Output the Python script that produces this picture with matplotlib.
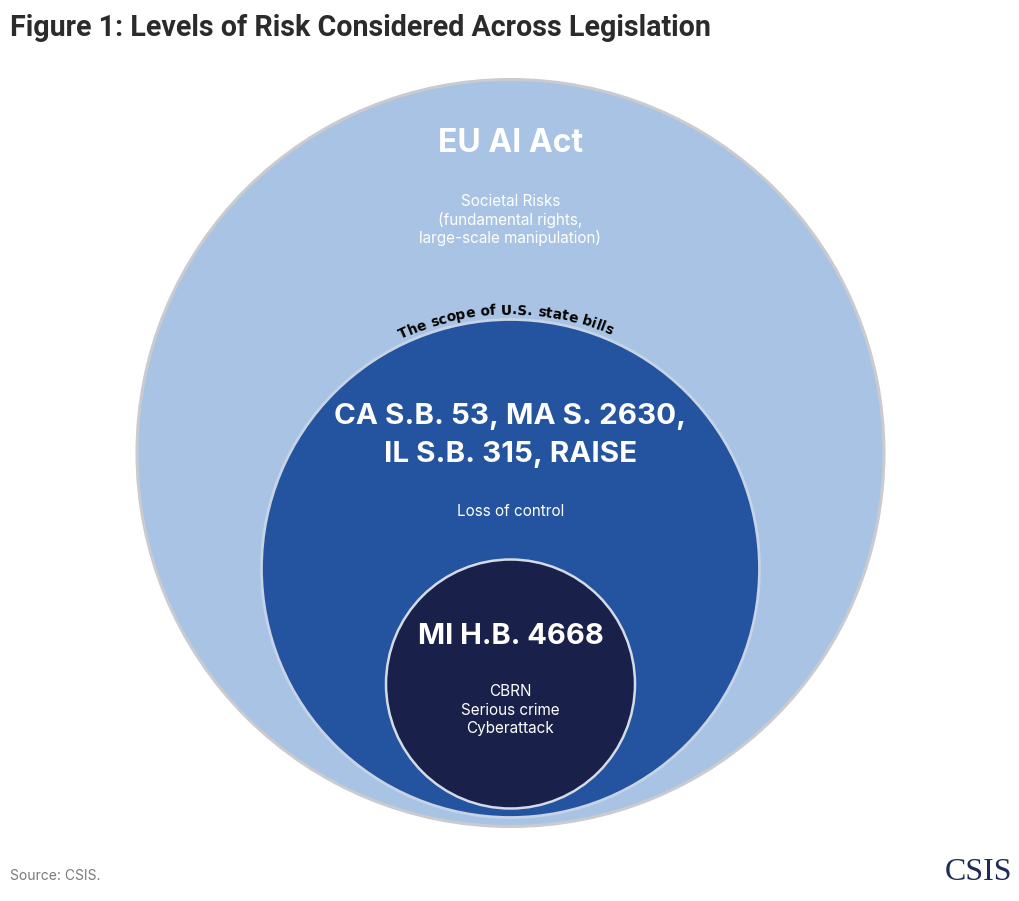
import matplotlib
matplotlib.use("Agg")
import matplotlib.pyplot as plt
from matplotlib.patches import Circle
from matplotlib.font_manager import FontProperties
from matplotlib.textpath import TextToPath
import numpy as np

# ---- data ----
title = "Figure 1: Levels of Risk Considered Across Legislation"
levels = [3, 2, 1]  # relative scope of risk considered (outer -> inner)
level_titles = [["EU AI Act"], ["CA S.B. 53, MA S. 2630,", "IL S.B. 315, RAISE"], ["MI H.B. 4668"]]
level_risks = [
    ["Societal Risks", "(fundamental rights,", "large-scale manipulation)"],
    ["Loss of control"],
    ["CBRN", "Serious crime", "Cyberattack"],
]
arc_label = "The scope of U.S. state bills"
source = "Source: CSIS."
logo = "CSIS"

# ---- style ----
W, H = 1020, 901
DPI = 100
fill_colors = ["#a8c3e3", "#2453a0", "#19204a"]
edge_colors = ["#c9cbd0", "#c7d3e6", "#d5dbe6"]
edge_widths = [2.2, 2.0, 1.8]
unit = 124.5
cx = 510.5
bottoms = [826.5, 817.5, 808.5]
title_y0 = [143, 417, 636]
title_lh = 38
title_sizes = [23.0, 21.3, 21.0]
risk_y0 = [201, 512, 692]
line_h = 18.5

fig = plt.figure(figsize=(W / DPI, H / DPI), dpi=DPI)
ax = fig.add_axes([0, 0, 1, 1])
ax.set_xlim(0, W)
ax.set_ylim(H, 0)
ax.set_aspect("equal")
ax.axis("off")

body = "Inter"

for i, lvl in enumerate(levels):
    r = lvl * unit
    cy = bottoms[i] - r
    ax.add_patch(Circle((cx, cy), r, facecolor=fill_colors[i], edgecolor=edge_colors[i],
                        linewidth=edge_widths[i], zorder=i + 1))
    for j, line in enumerate(level_titles[i]):
        ax.text(cx, title_y0[i] + j * title_lh, line, color="white", fontsize=title_sizes[i],
                fontweight="bold", family=body, ha="center", va="center", zorder=10)
    for j, line in enumerate(level_risks[i]):
        ax.text(cx, risk_y0[i] + j * line_h, line, color="white", fontsize=11.0,
                family=body, ha="center", va="center", zorder=10)

# curved label along the middle circle
prop = FontProperties(family="DejaVu Sans", weight="bold", size=9.9)
t2p = TextToPath()
def width_px(s):
    w, h, d = t2p.get_text_width_height_descent(s, prop, ismath=False)
    return w * DPI / 72.0
r_mid = levels[1] * unit
cy_mid = bottoms[1] - r_mid
R = r_mid + 5
total = width_px(arc_label)
shift = -5.0
for k, ch in enumerate(arc_label):
    if ch == " ":
        continue
    s = width_px(arc_label[:k]) + width_px(ch) / 2 - total / 2 + shift
    phi = s / R
    x = cx + R * np.sin(phi)
    y = cy_mid - R * np.cos(phi)
    ax.text(x, y, ch, fontproperties=prop, color="black", ha="center", va="baseline",
            rotation=-np.degrees(phi), rotation_mode="anchor", zorder=10)

ax.text(10, 28, title, fontsize=20.6, fontweight="bold", family="Roboto",
        color="#2b2b2b", ha="left", va="center")
ax.text(10, 876, source, fontsize=10.0, family=body, color="#7a7a7a", ha="left", va="center")
ax.text(1012, 872, logo, fontsize=23, family="Liberation Serif", color="#1f2a5c",
        ha="right", va="center")

fig.savefig("out.png", dpi=DPI)
